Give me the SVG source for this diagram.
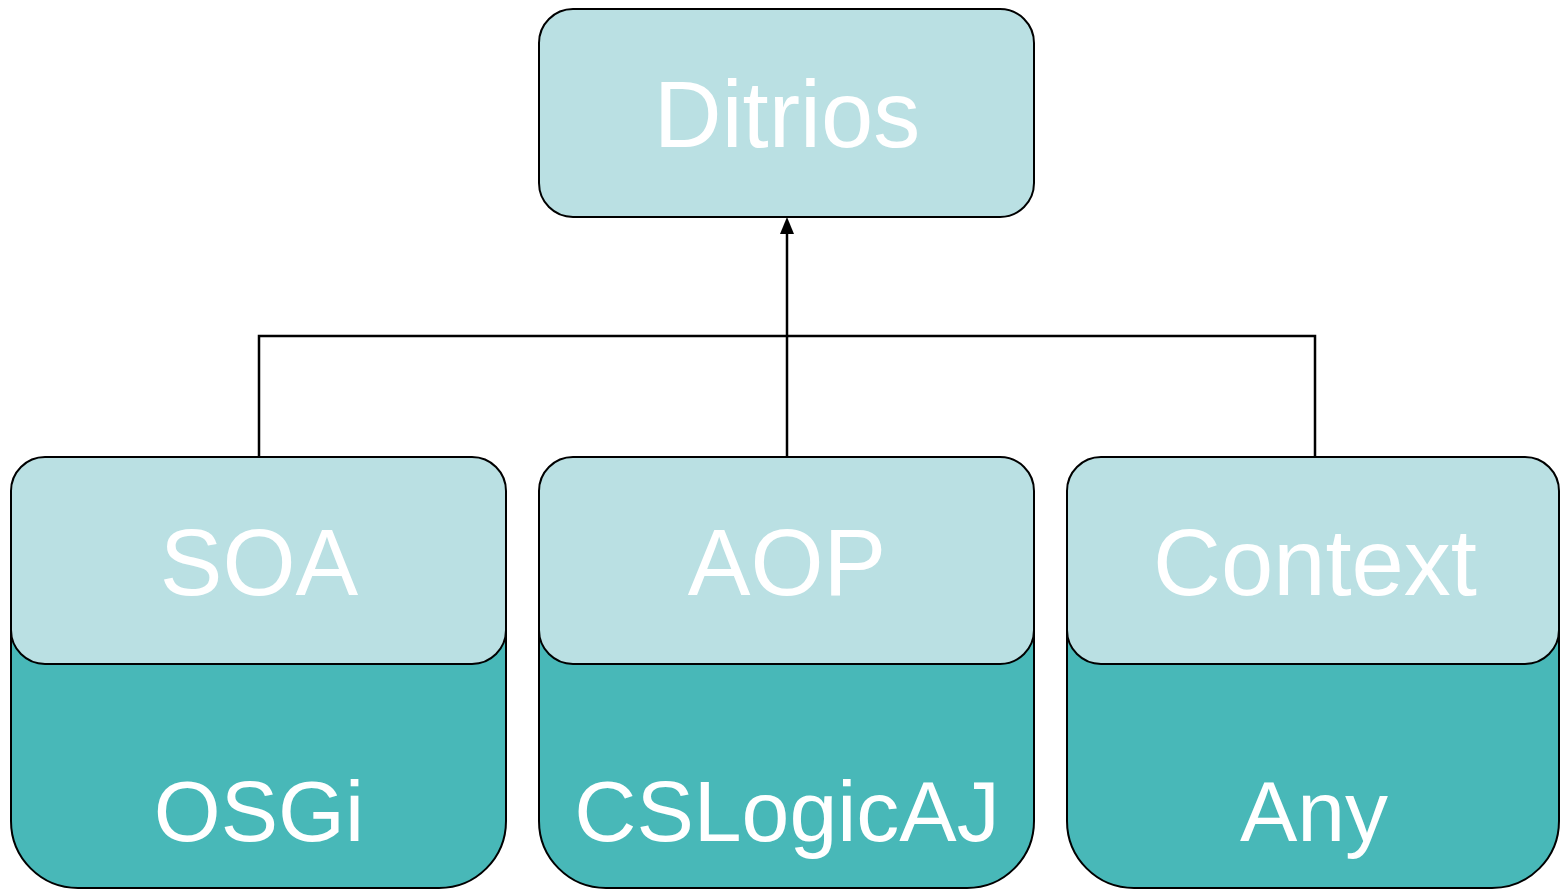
<svg xmlns="http://www.w3.org/2000/svg" width="1560" height="889" viewBox="0 0 1560 889">
<style>
.light{fill:#BAE0E3;stroke:#000;stroke-width:2}
.dark{fill:#48B8B8;stroke:#000;stroke-width:2}
.t{font-family:"Liberation Sans",Arial,sans-serif;fill:#fff;text-anchor:middle}
.big{font-size:94px}
.small{font-size:86px}
.conn{fill:none;stroke:#000;stroke-width:2.5}
</style>
<g id="connectors">
<path class="conn" d="M259,457 V336 H1315 V457"/>
<path class="conn" d="M787,457 V232"/>
<path d="M780,234 L787,217 L794,234 Z" fill="#000"/>
</g>
<g id="ditrios">
<rect class="light" x="539" y="9" width="495" height="208" rx="34" ry="34"/>
<text class="t big" x="787" y="147">Ditrios</text>
</g>
<g id="soa">
<rect class="dark" x="11" y="457" width="495" height="431" rx="67" ry="67"/>
<rect class="light" x="11" y="457" width="495" height="207" rx="34" ry="34"/>
<text class="t big" x="259" y="595">SOA</text>
<text class="t small" x="259" y="841">OSGi</text>
</g>
<g id="aop">
<rect class="dark" x="539" y="457" width="495" height="431" rx="67" ry="67"/>
<rect class="light" x="539" y="457" width="495" height="207" rx="34" ry="34"/>
<text class="t big" x="787" y="595">AOP</text>
<text class="t small" x="787" y="841">CSLogicAJ</text>
</g>
<g id="context">
<rect class="dark" x="1067" y="457" width="492" height="431" rx="67" ry="67"/>
<rect class="light" x="1067" y="457" width="492" height="207" rx="34" ry="34"/>
<text class="t big" x="1315" y="595">Context</text>
<text class="t small" x="1314" y="841">Any</text>
</g>
</svg>
